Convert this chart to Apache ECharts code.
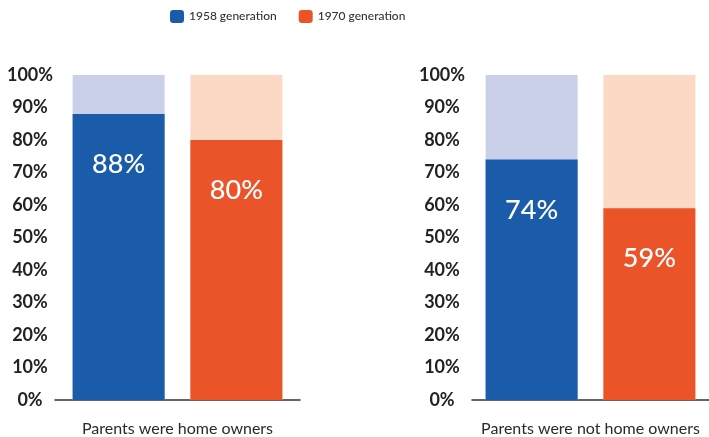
<!DOCTYPE html>
<html>
<head>
<meta charset="utf-8">
<script src="https://cdn.jsdelivr.net/npm/echarts@6/dist/echarts.min.js"></script>
<style>
  html, body { margin: 0; padding: 0; background: #fff; }
  #chart { width: 709px; height: 437px; }
</style>
</head>
<body>
<div id="chart"></div>
<script>
// data
const groups = ['Parents were home owners', 'Parents were not home owners']
const seriesNames = ['1958 generation', '1970 generation']
const gen1958 = [88, 74]
const gen1970 = [80, 59]
const yTicks = [0, 10, 20, 30, 40, 50, 60, 70, 80, 90, 100]

const colors = ['#1a5ca9', '#eb5429']
const lightColors = ['#cbd0ea', '#fbd9c4']
const font = 'Lato, "Open Sans", sans-serif'

const chart = echarts.init(document.getElementById('chart'))

const grids = [
  { left: 55, width: 245, top: 75, height: 327 },
  { left: 472, width: 245, top: 75, height: 327 }
]

const xAxes = groups.map((g, i) => ({
  type: 'category',
  gridIndex: i,
  data: [g],
  axisTick: { show: false },
  axisLine: { lineStyle: { color: '#333', width: 1.5 } },
  axisLabel: { color: '#2a2a2a', fontSize: 16, fontFamily: font, margin: 21 }
}))

const yAxes = groups.map((g, i) => ({
  type: 'value',
  gridIndex: i,
  min: yTicks[0],
  max: yTicks[yTicks.length - 1],
  interval: 10,
  splitLine: { show: false },
  axisLine: { show: false },
  axisTick: { show: false },
  axisLabel: {
    formatter: '{value}%',
    align: 'center',
    margin: i === 0 ? 25 : 30,
    color: '#222',
    fontSize: 18,
    fontWeight: 'bold',
    fontFamily: font
  }
}))

const series = []
groups.forEach((g, i) => {
  ;[gen1958, gen1970].forEach((vals, j) => {
    series.push({
      name: seriesNames[j],
      type: 'bar',
      xAxisIndex: i,
      yAxisIndex: i,
      data: [vals[i]],
      barWidth: 92,
      barGap: '28%',
      itemStyle: { color: colors[j] },
      showBackground: true,
      backgroundStyle: { color: lightColors[j] },
      label: {
        show: true,
        position: 'insideTop',
        distance: 37,
        formatter: '{c}%',
        color: '#fff',
        fontSize: 27,
        fontWeight: 500,
        fontFamily: font
      }
    })
  })
})

chart.setOption({
  animation: false,
  legend: {
    top: 5,
    left: 165,
    itemWidth: 14,
    itemHeight: 13,
    itemGap: 22,
    data: seriesNames,
    textStyle: { color: '#333', fontSize: 12, fontWeight: 500, fontFamily: font }
  },
  grid: grids,
  xAxis: xAxes,
  yAxis: yAxes,
  series: series
})
</script>
</body>
</html>
